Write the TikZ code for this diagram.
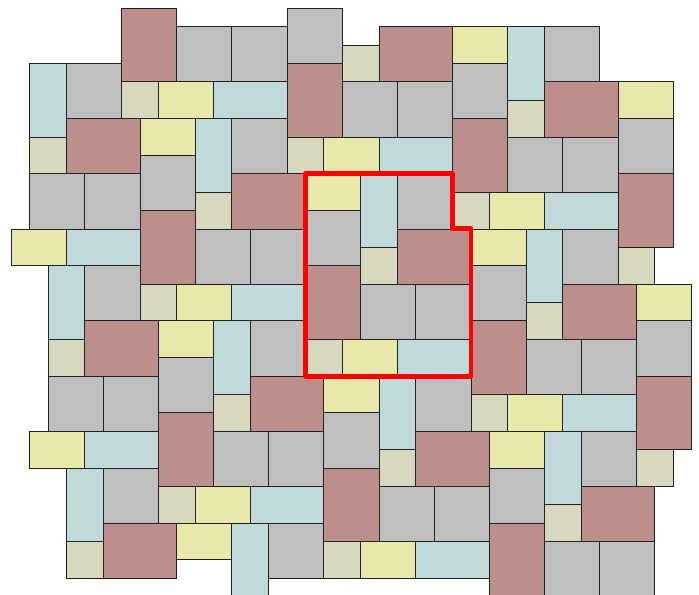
\documentclass[tikz,border=0pt]{standalone}
\usepackage{tikz}
\definecolor{pavered}{HTML}{BC8E8C}
\definecolor{pavegray}{HTML}{BFBFBF}
\definecolor{paveyellow}{HTML}{E8E8AA}
\definecolor{paveblue}{HTML}{C0DADA}
\definecolor{pavetan}{HTML}{D8D8BF}
\definecolor{paveedge}{HTML}{222222}
\definecolor{cellred}{HTML}{FF0000}

\begin{document}
\begin{tikzpicture}[x=0.5cm,y=-0.5cm]
  \tikzstyle{paver}=[draw=paveedge, line width=0.7pt]
  \tikzstyle{cell}=[draw=cellred, line width=3.8pt, line join=round]

  \path[use as bounding box] (-0.614,-0.451) rectangle (37.40,31.90);
  \clip (-0.614,-0.451) rectangle (37.40,31.90);

  % one period of the pattern, shifted by (9,3) and (1,11)
  \foreach \m in {-3,...,3} {
    \foreach \n in {-2,...,3} {
      \foreach \bx/\by/\bw/\bh/\col in {16/9/3/2/paveyellow, 19/9/2/4/paveblue, 21/9/3/3/pavegray,
          16/11/3/3/pavegray, 19/13/2/2/pavetan, 21/12/4/3/pavered, 16/14/3/4/pavered,
          19/15/3/3/pavegray, 22/15/3/3/pavegray, 16/18/2/2/pavetan, 18/18/3/2/paveyellow,
          21/18/4/2/paveblue} {
        \pgfmathtruncatemacro{\tx}{\bx+9*\m+\n}
        \pgfmathtruncatemacro{\ty}{\by+3*\m+11*\n}
        \pgfmathtruncatemacro{\keep}{(2*\tx+\bw>2) && (2*\tx+\bw<72) && (2*\ty+\bh>2) && (2*\ty+\bh<62) ? 1 : 0}
        \pgfmathtruncatemacro{\notile}{(\tx==2 && \ty==1) || (\tx==32 && \ty==2) || (\tx==34 && \ty==2) || (\tx==0 && \ty==25) || (\tx==0 && \ty==27) ? 1 : 0}
        \ifnum\keep=1 \ifnum\notile=0
          \draw[paver, fill=\col] (\tx,\ty) rectangle ++(\bw,\bh);
        \fi\fi
      }
    }
  }

  % the marked period
  \draw[cell] (16,9) -- (24,9) -- (24,12) -- (25,12) -- (25,20) -- (16,20) -- cycle;
\end{tikzpicture}
\end{document}
